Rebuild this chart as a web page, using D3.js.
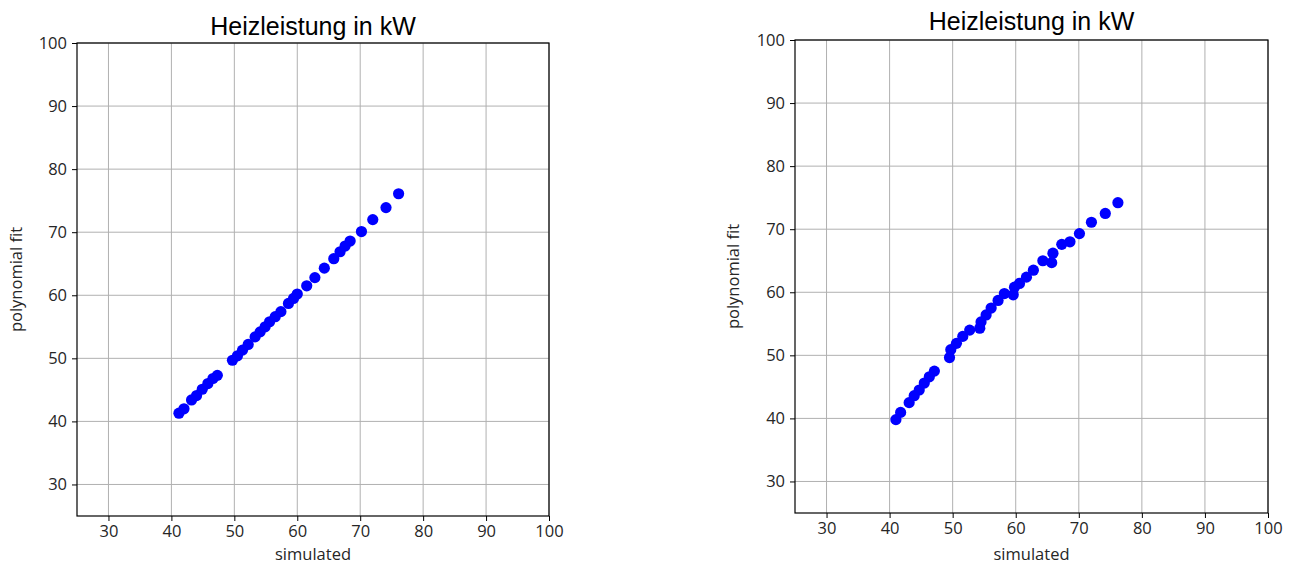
<!DOCTYPE html>
<html>
<head>
<meta charset="utf-8">
<script src="https://cdn.jsdelivr.net/npm/d3@7"></script>
<style>
  html, body { margin: 0; padding: 0; background: #ffffff; }
  svg { display: block; }
</style>
</head>
<body>
<svg id="chart" width="1295" height="565"></svg>
<script>
// ---- data ----
const titleText = "Heizleistung in kW";
const xLabelText = "simulated";
const yLabelText = "polynomial fit";
const tickValues = [30, 40, 50, 60, 70, 80, 90, 100];
const axisDomain = [25, 100];

const leftSimulated = [41.2, 42.0, 43.2, 44.0, 44.9, 45.8, 46.6, 47.3, 49.7, 50.5, 51.3, 52.2, 53.3, 54.1, 54.9, 55.6, 56.5, 57.4, 58.6, 59.4, 60.0, 61.5, 62.8, 64.3, 65.8, 66.8, 67.6, 68.4, 70.2, 72.0, 74.1, 76.1];
const leftFit       = [41.3, 42.0, 43.4, 44.1, 45.1, 46.0, 46.8, 47.3, 49.7, 50.4, 51.3, 52.2, 53.4, 54.2, 55.0, 55.8, 56.6, 57.4, 58.7, 59.5, 60.2, 61.5, 62.8, 64.3, 65.8, 66.9, 67.8, 68.6, 70.1, 72.0, 73.9, 76.1];

const rightSimulated = [41.0, 41.75, 43.1, 43.9, 44.7, 45.5, 46.3, 47.1, 49.5, 49.7, 50.6, 51.6, 52.7, 54.3, 54.5, 55.3, 56.1, 57.2, 58.2, 59.6, 59.8, 60.6, 61.7, 62.8, 64.3, 65.7, 65.9, 67.3, 68.6, 70.1, 72.0, 74.2, 76.2];
const rightFit       = [39.8, 40.95, 42.5, 43.6, 44.5, 45.6, 46.6, 47.5, 49.65, 50.9, 51.9, 53.0, 54.0, 54.3, 55.3, 56.4, 57.5, 58.7, 59.8, 59.6, 60.8, 61.4, 62.4, 63.5, 65.0, 64.7, 66.2, 67.6, 68.0, 69.3, 71.1, 72.5, 74.2];

// ---- layout ----
const panels = [
  { x0: 77,  x1: 549,  y0: 43, y1: 516, xs: leftSimulated,  ys: leftFit,  titleY: 35, ylabX: 18,  xtickY: 530, xlabY: 556 },
  { x0: 795, x1: 1268, y0: 40, y1: 513, xs: rightSimulated, ys: rightFit, titleY: 30, ylabX: 735, xtickY: 527, xlabY: 556 }
];

const svg = d3.select("#chart");
const tickFont = "'Open Sans', 'DejaVu Sans', sans-serif";

panels.forEach(p => {
  const x = d3.scaleLinear().domain(axisDomain).range([p.x0, p.x1]);
  const y = d3.scaleLinear().domain(axisDomain).range([p.y1, p.y0]);
  const g = svg.append("g");

  // grid
  g.append("g").selectAll("line.vg").data(tickValues).join("line")
    .attr("x1", d => x(d)).attr("x2", d => x(d))
    .attr("y1", p.y0).attr("y2", p.y1)
    .attr("stroke", "#b0b0b0").attr("stroke-width", 1);
  g.append("g").selectAll("line.hg").data(tickValues).join("line")
    .attr("y1", d => y(d)).attr("y2", d => y(d))
    .attr("x1", p.x0).attr("x2", p.x1)
    .attr("stroke", "#b0b0b0").attr("stroke-width", 1);

  // axes
  const xAxis = d3.axisBottom(x).tickValues(tickValues).tickSize(5).tickPadding(4).tickSizeOuter(0);
  const yAxis = d3.axisLeft(y).tickValues(tickValues).tickSize(5).tickPadding(5).tickSizeOuter(0);

  const gx = g.append("g").attr("transform", `translate(0,${p.y1})`).call(xAxis);
  const gy = g.append("g").attr("transform", `translate(${p.x0},0)`).call(yAxis);
  [gx, gy].forEach(a => {
    a.select(".domain").remove();
    a.selectAll(".tick line").attr("stroke", "#000");
    a.selectAll(".tick text")
      .attr("fill", "#262626")
      .style("font-family", tickFont)
      .style("font-size", "16.5px");
  });

  // points
  g.append("g").selectAll("circle").data(p.xs.map((v, i) => [v, p.ys[i]])).join("circle")
    .attr("cx", d => x(d[0])).attr("cy", d => y(d[1]))
    .attr("r", 5.6)
    .attr("fill", "#0000ff");

  // frame
  g.append("rect")
    .attr("x", p.x0).attr("y", p.y0)
    .attr("width", p.x1 - p.x0).attr("height", p.y1 - p.y0)
    .attr("fill", "none").attr("stroke", "#000").attr("stroke-width", 1.2);

  // title
  g.append("text")
    .attr("x", (p.x0 + p.x1) / 2).attr("y", p.titleY)
    .attr("text-anchor", "middle")
    .style("font-family", "'Liberation Sans', Arial, sans-serif")
    .style("font-size", "25px")
    .attr("fill", "#000")
    .text(titleText);

  // x label
  g.append("text")
    .attr("x", (p.x0 + p.x1) / 2).attr("y", p.xlabY)
    .attr("text-anchor", "middle").attr("dominant-baseline", "middle")
    .style("font-family", tickFont).style("font-size", "16.5px")
    .attr("fill", "#262626")
    .text(xLabelText);

  // y label
  g.append("text")
    .attr("transform", `translate(${p.ylabX},${(p.y0 + p.y1) / 2}) rotate(-90)`)
    .attr("text-anchor", "middle").attr("dominant-baseline", "middle")
    .style("font-family", tickFont).style("font-size", "16.5px")
    .attr("fill", "#262626")
    .text(yLabelText);
});
</script>
</body>
</html>
